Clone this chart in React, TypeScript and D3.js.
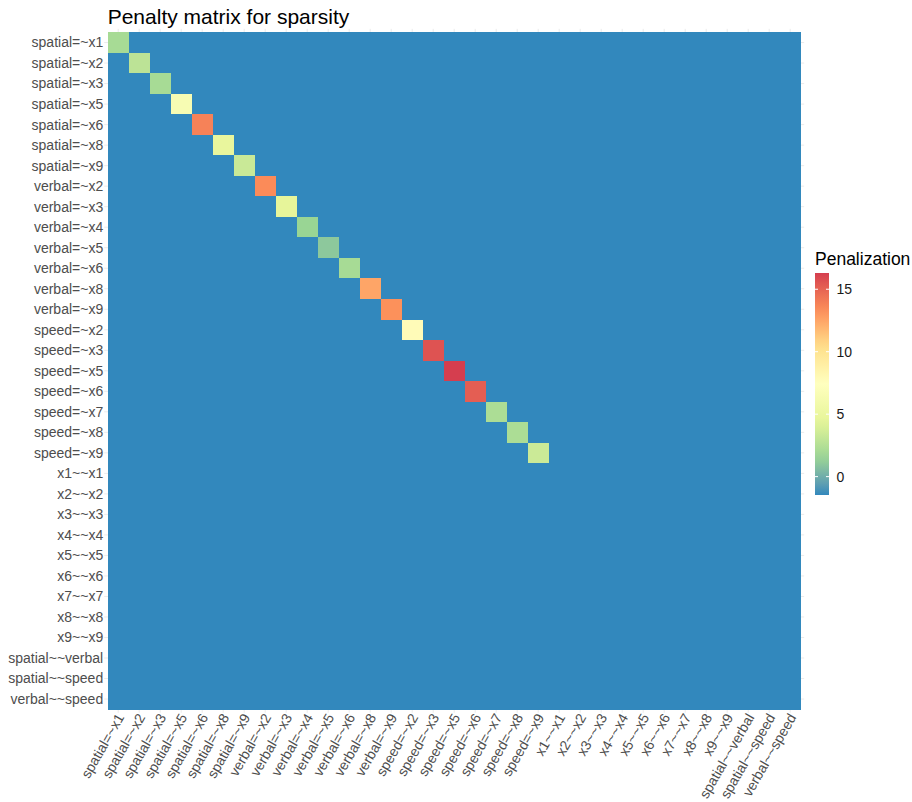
import { useEffect, useRef } from 'react';
import * as d3 from 'd3';

const params = [
  'spatial=~x1', 'spatial=~x2', 'spatial=~x3', 'spatial=~x5', 'spatial=~x6', 'spatial=~x8', 'spatial=~x9',
  'verbal=~x2', 'verbal=~x3', 'verbal=~x4', 'verbal=~x5', 'verbal=~x6', 'verbal=~x8', 'verbal=~x9',
  'speed=~x2', 'speed=~x3', 'speed=~x5', 'speed=~x6', 'speed=~x7', 'speed=~x8', 'speed=~x9',
  'x1~~x1', 'x2~~x2', 'x3~~x3', 'x4~~x4', 'x5~~x5', 'x6~~x6', 'x7~~x7', 'x8~~x8', 'x9~~x9',
  'spatial~~verbal', 'spatial~~speed', 'verbal~~speed',
];

// penalty on the diagonal for the loadings (in the order of params)
const diagPenalty = [
  2.0, 2.8, 2.0, 6.5, 13.8, 4.8, 3.3,
  13.4, 4.6, 1.5, 1.0, 2.0, 12.5, 13.2,
  7.8, 15.6, 16.3, 15.2, 2.2, 2.2, 3.4,
];
const offPenalty = -1.47;

const legendTicks = [0, 5, 10, 15];
const spectral7 = ['#3288bd', '#99d594', '#e6f598', '#ffffbf', '#fee08b', '#fc8d59', '#d53e4f'];

const FONT = '"Liberation Sans", Arial, Helvetica, sans-serif';

export default function App() {
  const svgRef = useRef<SVGSVGElement>(null);

  useEffect(() => {
    if (!svgRef.current) return;
    const svg = d3.select(svgRef.current);
    svg.selectAll('*').remove();

    const left = 107.7, top = 32.3, right = 800.7, bottom = 709.3;

    const cells: { r: string; c: string; v: number }[] = [];
    params.forEach((r, i) => {
      params.forEach((c, j) => {
        const v = i === j && i < diagPenalty.length ? diagPenalty[i] : offPenalty;
        cells.push({ r, c, v });
      });
    });

    const vmin = d3.min(cells, d => d.v) as number;
    const vmax = d3.max(cells, d => d.v) as number;

    const x = d3.scaleBand().domain(params).range([left, right]);
    const y = d3.scaleBand().domain(params).range([top, bottom]);

    const stops = spectral7.map((_, i) => vmin + (i / (spectral7.length - 1)) * (vmax - vmin));
    const color = d3.scaleLinear<string>().domain(stops).range(spectral7).interpolate(d3.interpolateLab);

    // panel grid (only peeks out around the tiles)
    const grid = svg.append('g').attr('stroke', '#ebebeb').attr('stroke-width', 1);
    params.forEach(p => {
      const cx = (x(p) as number) + x.bandwidth() / 2;
      grid.append('line').attr('x1', cx).attr('x2', cx).attr('y1', top - 3.5).attr('y2', bottom + 3.5);
      const cy = (y(p) as number) + y.bandwidth() / 2;
      grid.append('line').attr('x1', left - 3.5).attr('x2', right + 3.5).attr('y1', cy).attr('y2', cy);
    });

    svg.append('g')
      .attr('shape-rendering', 'crispEdges')
      .selectAll('rect')
      .data(cells)
      .enter()
      .append('rect')
      .attr('x', d => x(d.c) as number)
      .attr('y', d => y(d.r) as number)
      .attr('width', x.bandwidth() + 0.5)
      .attr('height', y.bandwidth() + 0.5)
      .attr('fill', d => color(d.v));

    // title
    svg.append('text')
      .attr('x', left)
      .attr('y', 24)
      .attr('font-family', FONT)
      .attr('font-size', 21)
      .attr('fill', '#000')
      .text('Penalty matrix for sparsity');

    // y axis labels
    svg.append('g')
      .selectAll('text')
      .data(params)
      .enter()
      .append('text')
      .attr('x', left - 4.5)
      .attr('y', d => (y(d) as number) + y.bandwidth() / 2)
      .attr('dy', '0.35em')
      .attr('text-anchor', 'end')
      .attr('font-family', FONT)
      .attr('font-size', 14)
      .attr('fill', '#4d4d4d')
      .text(d => d);

    // x axis labels, rotated 60deg
    svg.append('g')
      .selectAll('text')
      .data(params)
      .enter()
      .append('text')
      .attr('transform', d => {
        const cx = (x(d) as number) + x.bandwidth() / 2 + 6.5;
        return `translate(${cx},${bottom + 8})rotate(-60)`;
      })
      .attr('text-anchor', 'end')
      .attr('font-family', FONT)
      .attr('font-size', 14)
      .attr('fill', '#4d4d4d')
      .text(d => d);

    // legend
    const lx = 815, lw = 14, ly0 = 273, ly1 = 495;
    const ly = d3.scaleLinear().domain([vmin, vmax]).range([ly1, ly0]);

    svg.append('text')
      .attr('x', lx)
      .attr('y', 265)
      .attr('font-family', FONT)
      .attr('font-size', 17.5)
      .attr('fill', '#000')
      .text('Penalization');

    const defs = svg.append('defs');
    const grad = defs.append('linearGradient')
      .attr('id', 'pen-grad')
      .attr('x1', 0).attr('x2', 0).attr('y1', 1).attr('y2', 0);
    d3.range(0, 1.0001, 0.05).forEach(t => {
      grad.append('stop')
        .attr('offset', `${t * 100}%`)
        .attr('stop-color', color(vmin + t * (vmax - vmin)));
    });
    svg.append('rect')
      .attr('x', lx).attr('y', ly0)
      .attr('width', lw).attr('height', ly1 - ly0)
      .attr('fill', 'url(#pen-grad)');

    const lt = svg.append('g');
    legendTicks.forEach(t => {
      const ty = ly(t);
      lt.append('line').attr('x1', lx).attr('x2', lx + 3).attr('y1', ty).attr('y2', ty)
        .attr('stroke', '#fff').attr('stroke-width', 1);
      lt.append('line').attr('x1', lx + lw - 3).attr('x2', lx + lw).attr('y1', ty).attr('y2', ty)
        .attr('stroke', '#fff').attr('stroke-width', 1);
      lt.append('text')
        .attr('x', lx + lw + 7.5)
        .attr('y', ty)
        .attr('dy', '0.35em')
        .attr('font-family', FONT)
        .attr('font-size', 14)
        .attr('fill', '#1a1a1a')
        .text(t);
    });
  }, []);

  return (
    <svg
      ref={svgRef}
      width={912}
      height={802}
      style={{ position: 'absolute', left: 0, top: 0, background: '#fff' }}
    />
  );
}
